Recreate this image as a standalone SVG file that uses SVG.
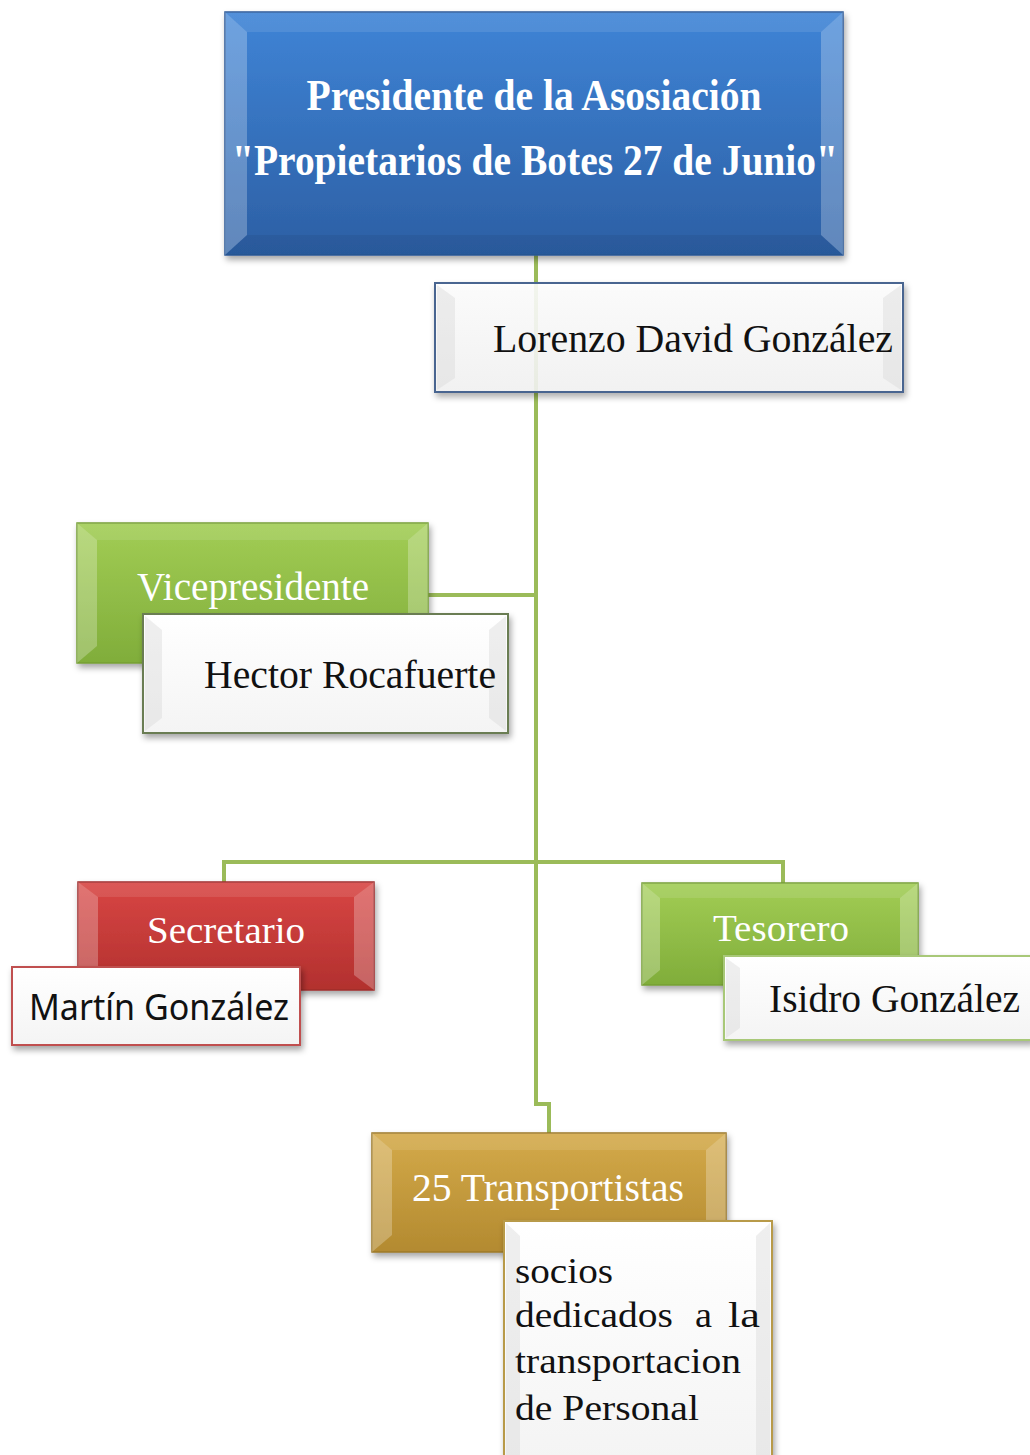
<svg xmlns="http://www.w3.org/2000/svg" width="1030" height="1455" viewBox="0 0 1030 1455">
<defs>
<linearGradient id="gBlue" x1="0" y1="0" x2="0" y2="1"><stop offset="0" stop-color="#3f84d6"/><stop offset="1" stop-color="#2c5fa4"/></linearGradient>
<linearGradient id="gGreen" x1="0" y1="0" x2="0" y2="1"><stop offset="0" stop-color="#a2cd55"/><stop offset="1" stop-color="#80ad3a"/></linearGradient>
<linearGradient id="gRed" x1="0" y1="0" x2="0" y2="1"><stop offset="0" stop-color="#d84644"/><stop offset="1" stop-color="#b2302e"/></linearGradient>
<linearGradient id="gGold" x1="0" y1="0" x2="0" y2="1"><stop offset="0" stop-color="#d4aa4a"/><stop offset="1" stop-color="#b38a30"/></linearGradient>
<linearGradient id="gWhite" x1="0" y1="0" x2="0" y2="1"><stop offset="0" stop-color="#ffffff"/><stop offset="1" stop-color="#f4f4f4"/></linearGradient>
<filter id="sh" x="-10%" y="-10%" width="125%" height="130%"><feDropShadow dx="2" dy="4" stdDeviation="3" flood-color="#000" flood-opacity="0.35"/></filter>
</defs>
<style>
.side{fill:#ffffff;fill-opacity:0.25}
.top{fill:#ffffff;fill-opacity:0.1}
.bot{fill:#000000;fill-opacity:0.06}
.wside{fill:#d8d8d8;fill-opacity:0.4}
.conn{fill:none;stroke:#9bbb59;stroke-width:4}
.ser{font-family:"Liberation Serif","Times New Roman",serif}
.wt{fill:#ffffff}
.bk{fill:#111111}
</style>
<rect width="1030" height="1455" fill="#ffffff"/>
<g id="connectors">
<path class="conn" d="M536,255 V1104 H549 V1133"/>
<path class="conn" d="M428,595 H536"/>
<path class="conn" d="M224,883 V862 H783 V883"/>
</g>
<g id="presidente">
<rect x="225" y="12" width="618" height="243" fill="url(#gBlue)" stroke="#2b5a98" stroke-width="1.5" filter="url(#sh)"/>
<polygon class="side" points="225,12 247,32 247,235 225,255"/>
<polygon class="side" points="843,12 821,32 821,235 843,255"/>
<polygon class="top" points="225,12 843,12 821,32 247,32"/>
<polygon class="bot" points="225,255 843,255 821,235 247,235"/>
<text class="ser wt" x="534" y="110" font-size="44" font-weight="bold" text-anchor="middle" textLength="455" lengthAdjust="spacingAndGlyphs">Presidente de la Asosiación</text>
<text class="ser wt" x="535" y="175" font-size="44" font-weight="bold" text-anchor="middle" textLength="606" lengthAdjust="spacingAndGlyphs">"Propietarios de Botes 27 de Junio"</text>
</g>
<g id="lorenzo">
<rect x="435" y="283" width="468" height="109" fill="url(#gWhite)" fill-opacity="0.88" stroke="#4a6590" stroke-width="2" filter="url(#sh)"/>
<polygon class="wside" points="437,285 455,298 455,378 437,390"/>
<polygon class="wside" points="901,285 883,298 883,378 901,390"/>
<text class="ser bk" x="493" y="352" font-size="40" textLength="400" lengthAdjust="spacingAndGlyphs">Lorenzo David González</text>
</g>
<g id="vicepresidente">
<rect x="77" y="523" width="351" height="140" fill="url(#gGreen)" stroke="#769f35" stroke-width="1.5" filter="url(#sh)"/>
<polygon class="side" points="77,523 97,540 97,646 77,663"/>
<polygon class="side" points="428,523 408,540 408,646 428,663"/>
<polygon class="top" points="77,523 428,523 408,540 97,540"/>
<text class="ser wt" x="137" y="600" font-size="40" textLength="232" lengthAdjust="spacingAndGlyphs">Vicepresidente</text>
</g>
<g id="hector">
<rect x="143" y="614" width="365" height="119" fill="url(#gWhite)" stroke="#6b7d52" stroke-width="2" filter="url(#sh)"/>
<polygon class="wside" points="145,616 162,630 162,718 145,731"/>
<polygon class="wside" points="506,616 489,630 489,718 506,731"/>
<text class="ser bk" x="204" y="688" font-size="40" textLength="292" lengthAdjust="spacingAndGlyphs">Hector Rocafuerte</text>
</g>
<g id="secretario">
<rect x="78" y="882" width="296" height="108" fill="url(#gRed)" stroke="#9e2e2c" stroke-width="1.5" filter="url(#sh)"/>
<polygon class="side" points="78,882 98,897 98,975 78,990"/>
<polygon class="side" points="374,882 354,897 354,975 374,990"/>
<polygon class="top" points="78,882 374,882 354,897 98,897"/>
<text class="ser wt" x="147" y="943" font-size="37" textLength="158" lengthAdjust="spacingAndGlyphs">Secretario</text>
</g>
<g id="martin">
<rect x="12" y="967" width="288" height="78" fill="url(#gWhite)" stroke="#c05050" stroke-width="2" filter="url(#sh)"/>
<text x="29" y="1020" font-family="'Noto Sans','Liberation Sans',sans-serif" font-size="36" fill="#111" textLength="260" lengthAdjust="spacingAndGlyphs">Martín González</text>
</g>
<g id="tesorero">
<rect x="642" y="883" width="276" height="102" fill="url(#gGreen)" stroke="#769f35" stroke-width="1.5" filter="url(#sh)"/>
<polygon class="side" points="642,883 660,898 660,970 642,985"/>
<polygon class="side" points="918,883 900,898 900,970 918,985"/>
<polygon class="top" points="642,883 918,883 900,898 660,898"/>
<text class="ser wt" x="713" y="941" font-size="37" textLength="136" lengthAdjust="spacingAndGlyphs">Tesorero</text>
</g>
<g id="isidro">
<rect x="724" y="956" width="308" height="84" fill="url(#gWhite)" stroke="#a8c878" stroke-width="2" filter="url(#sh)"/>
<polygon class="wside" points="726,958 740,968 740,1028 726,1038"/>
<text class="ser bk" x="769" y="1012" font-size="40" textLength="251" lengthAdjust="spacingAndGlyphs">Isidro González</text>
</g>
<g id="transportistas">
<rect x="372" y="1133" width="354" height="119" fill="url(#gGold)" stroke="#9c7828" stroke-width="1.5" filter="url(#sh)"/>
<polygon class="side" points="372,1133 392,1150 392,1235 372,1252"/>
<polygon class="side" points="726,1133 706,1150 706,1235 726,1252"/>
<polygon class="top" points="372,1133 726,1133 706,1150 392,1150"/>
<text class="ser wt" x="412" y="1201" font-size="40" textLength="272" lengthAdjust="spacingAndGlyphs">25 Transportistas</text>
</g>
<g id="socios">
<rect x="504" y="1221" width="268" height="240" fill="url(#gWhite)" stroke="#b89a48" stroke-width="2" filter="url(#sh)"/>
<polygon class="wside" points="506,1223 520,1236 520,1455 506,1455"/>
<polygon class="wside" points="770,1223 756,1236 756,1455 770,1455"/>
<text class="ser bk" x="515" y="1283" font-size="36" textLength="98" lengthAdjust="spacingAndGlyphs">socios</text>
<text class="ser bk" x="515" y="1327" font-size="36" textLength="158" lengthAdjust="spacingAndGlyphs">dedicados</text>
<text class="ser bk" x="695" y="1327" font-size="36" textLength="17" lengthAdjust="spacingAndGlyphs">a</text>
<text class="ser bk" x="728" y="1327" font-size="36" textLength="32" lengthAdjust="spacingAndGlyphs">la</text>
<text class="ser bk" x="515" y="1373" font-size="36" textLength="226" lengthAdjust="spacingAndGlyphs">transportacion</text>
<text class="ser bk" x="515" y="1420" font-size="36" textLength="184" lengthAdjust="spacingAndGlyphs">de Personal</text>
</g>
</svg>
